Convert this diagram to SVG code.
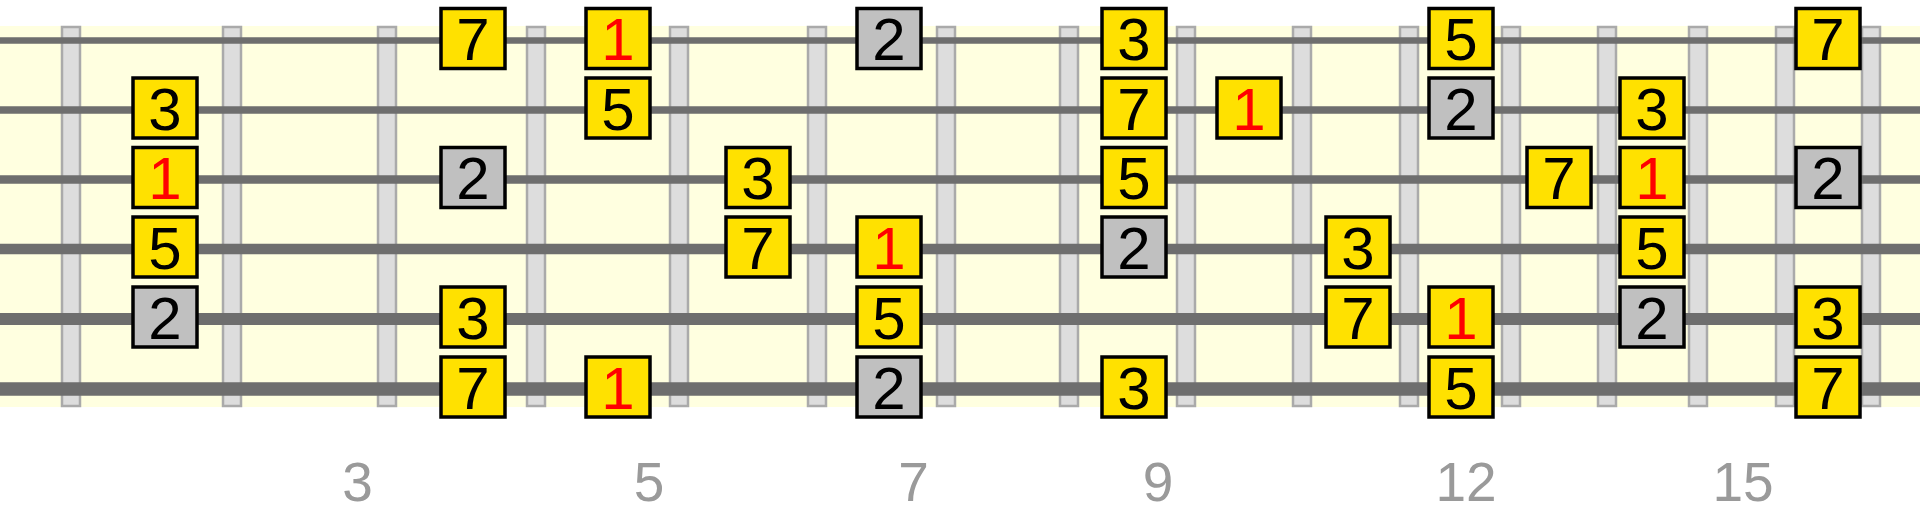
<svg xmlns="http://www.w3.org/2000/svg" width="1920" height="511" viewBox="0 0 1920 511">
<style>
.fret{fill:#dddddd;stroke:#aaaaaa;stroke-width:2.5}
.str{stroke:#6e6e6e;fill:none}
.y rect{fill:#ffe100;stroke:#000;stroke-width:3.5}
.g rect{fill:#c0c0c0;stroke:#000;stroke-width:3.5}
.n text{font-family:"Liberation Sans",Arial,sans-serif;font-size:60px;text-anchor:middle;fill:#000}
.n text.r{fill:#ff0000}
.lbl{font-family:"Liberation Sans",Arial,sans-serif;font-size:55px;text-anchor:middle;fill:#9a9a9a}
</style>
<rect x="0" y="26" width="1920" height="381" fill="#ffffe0"/>
<g id="frets">
<rect class="fret" x="62" y="27" width="18" height="379"/>
<rect class="fret" x="223" y="27" width="18" height="379"/>
<rect class="fret" x="378" y="27" width="18" height="379"/>
<rect class="fret" x="527" y="27" width="18" height="379"/>
<rect class="fret" x="670" y="27" width="18" height="379"/>
<rect class="fret" x="808" y="27" width="18" height="379"/>
<rect class="fret" x="937" y="27" width="18" height="379"/>
<rect class="fret" x="1060" y="27" width="18" height="379"/>
<rect class="fret" x="1177" y="27" width="18" height="379"/>
<rect class="fret" x="1293" y="27" width="18" height="379"/>
<rect class="fret" x="1400" y="27" width="18" height="379"/>
<rect class="fret" x="1502" y="27" width="18" height="379"/>
<rect class="fret" x="1598" y="27" width="18" height="379"/>
<rect class="fret" x="1689" y="27" width="18" height="379"/>
<rect class="fret" x="1776" y="27" width="18" height="379"/>
<rect class="fret" x="1862" y="27" width="18" height="379"/>
</g>
<g id="strings">
<line class="str" x1="0" y1="40.5" x2="1920" y2="40.5" stroke-width="6.5"/>
<line class="str" x1="0" y1="110" x2="1920" y2="110" stroke-width="7.5"/>
<line class="str" x1="0" y1="179.5" x2="1920" y2="179.5" stroke-width="8.5"/>
<line class="str" x1="0" y1="249" x2="1920" y2="249" stroke-width="10.5"/>
<line class="str" x1="0" y1="319" x2="1920" y2="319" stroke-width="12"/>
<line class="str" x1="0" y1="389" x2="1920" y2="389" stroke-width="13.5"/>
</g>
<g id="connectors"></g>
<g id="notes">
<g id="n-a2" class="n y" transform="translate(165,108)"><rect x="-32" y="-30" width="64" height="60"/><text y="21.5">3</text></g>
<g id="n-a3" class="n y" transform="translate(165,177.5)"><rect x="-32" y="-30" width="64" height="60"/><text class="r" y="21.5">1</text></g>
<g id="n-a4" class="n y" transform="translate(165,247)"><rect x="-32" y="-30" width="64" height="60"/><text y="21.5">5</text></g>
<g id="n-a5" class="n g" transform="translate(165,317)"><rect x="-32" y="-30" width="64" height="60"/><text y="21.5">2</text></g>
<g id="n-b1" class="n y" transform="translate(473,38.5)"><rect x="-32" y="-30" width="64" height="60"/><text y="21.5">7</text></g>
<g id="n-b3" class="n g" transform="translate(473,177.5)"><rect x="-32" y="-30" width="64" height="60"/><text y="21.5">2</text></g>
<g id="n-b5" class="n y" transform="translate(473,317)"><rect x="-32" y="-30" width="64" height="60"/><text y="21.5">3</text></g>
<g id="n-b6" class="n y" transform="translate(473,387)"><rect x="-32" y="-30" width="64" height="60"/><text y="21.5">7</text></g>
<g id="n-c1" class="n y" transform="translate(618,38.5)"><rect x="-32" y="-30" width="64" height="60"/><text class="r" y="21.5">1</text></g>
<g id="n-c2" class="n y" transform="translate(618,108)"><rect x="-32" y="-30" width="64" height="60"/><text y="21.5">5</text></g>
<g id="n-c6" class="n y" transform="translate(618,387)"><rect x="-32" y="-30" width="64" height="60"/><text class="r" y="21.5">1</text></g>
<g id="n-d3" class="n y" transform="translate(758,177.5)"><rect x="-32" y="-30" width="64" height="60"/><text y="21.5">3</text></g>
<g id="n-d4" class="n y" transform="translate(758,247)"><rect x="-32" y="-30" width="64" height="60"/><text y="21.5">7</text></g>
<g id="n-e1" class="n g" transform="translate(889,38.5)"><rect x="-32" y="-30" width="64" height="60"/><text y="21.5">2</text></g>
<g id="n-e4" class="n y" transform="translate(889,247)"><rect x="-32" y="-30" width="64" height="60"/><text class="r" y="21.5">1</text></g>
<g id="n-e5" class="n y" transform="translate(889,317)"><rect x="-32" y="-30" width="64" height="60"/><text y="21.5">5</text></g>
<g id="n-e6" class="n g" transform="translate(889,387)"><rect x="-32" y="-30" width="64" height="60"/><text y="21.5">2</text></g>
<g id="n-f1" class="n y" transform="translate(1134,38.5)"><rect x="-32" y="-30" width="64" height="60"/><text y="21.5">3</text></g>
<g id="n-f2" class="n y" transform="translate(1134,108)"><rect x="-32" y="-30" width="64" height="60"/><text y="21.5">7</text></g>
<g id="n-f3" class="n y" transform="translate(1134,177.5)"><rect x="-32" y="-30" width="64" height="60"/><text y="21.5">5</text></g>
<g id="n-f4" class="n g" transform="translate(1134,247)"><rect x="-32" y="-30" width="64" height="60"/><text y="21.5">2</text></g>
<g id="n-f6" class="n y" transform="translate(1134,387)"><rect x="-32" y="-30" width="64" height="60"/><text y="21.5">3</text></g>
<g id="n-g2" class="n y" transform="translate(1249,108)"><rect x="-32" y="-30" width="64" height="60"/><text class="r" y="21.5">1</text></g>
<g id="n-h4" class="n y" transform="translate(1358,247)"><rect x="-32" y="-30" width="64" height="60"/><text y="21.5">3</text></g>
<g id="n-h5" class="n y" transform="translate(1358,317)"><rect x="-32" y="-30" width="64" height="60"/><text y="21.5">7</text></g>
<g id="n-i1" class="n y" transform="translate(1461,38.5)"><rect x="-32" y="-30" width="64" height="60"/><text y="21.5">5</text></g>
<g id="n-i2" class="n g" transform="translate(1461,108)"><rect x="-32" y="-30" width="64" height="60"/><text y="21.5">2</text></g>
<g id="n-i5" class="n y" transform="translate(1461,317)"><rect x="-32" y="-30" width="64" height="60"/><text class="r" y="21.5">1</text></g>
<g id="n-i6" class="n y" transform="translate(1461,387)"><rect x="-32" y="-30" width="64" height="60"/><text y="21.5">5</text></g>
<g id="n-j3" class="n y" transform="translate(1559,177.5)"><rect x="-32" y="-30" width="64" height="60"/><text y="21.5">7</text></g>
<g id="n-k2" class="n y" transform="translate(1652,108)"><rect x="-32" y="-30" width="64" height="60"/><text y="21.5">3</text></g>
<g id="n-k3" class="n y" transform="translate(1652,177.5)"><rect x="-32" y="-30" width="64" height="60"/><text class="r" y="21.5">1</text></g>
<g id="n-k4" class="n y" transform="translate(1652,247)"><rect x="-32" y="-30" width="64" height="60"/><text y="21.5">5</text></g>
<g id="n-k5" class="n g" transform="translate(1652,317)"><rect x="-32" y="-30" width="64" height="60"/><text y="21.5">2</text></g>
<g id="n-l1" class="n y" transform="translate(1828,38.5)"><rect x="-32" y="-30" width="64" height="60"/><text y="21.5">7</text></g>
<g id="n-l3" class="n g" transform="translate(1828,177.5)"><rect x="-32" y="-30" width="64" height="60"/><text y="21.5">2</text></g>
<g id="n-l5" class="n y" transform="translate(1828,317)"><rect x="-32" y="-30" width="64" height="60"/><text y="21.5">3</text></g>
<g id="n-l6" class="n y" transform="translate(1828,387)"><rect x="-32" y="-30" width="64" height="60"/><text y="21.5">7</text></g>
</g>
<g id="fret-numbers">
<text class="lbl" x="357.5" y="501">3</text>
<text class="lbl" x="649" y="501">5</text>
<text class="lbl" x="913.5" y="501">7</text>
<text class="lbl" x="1158" y="501">9</text>
<text class="lbl" x="1466" y="501">12</text>
<text class="lbl" x="1743" y="501">15</text>
</g>
</svg>
